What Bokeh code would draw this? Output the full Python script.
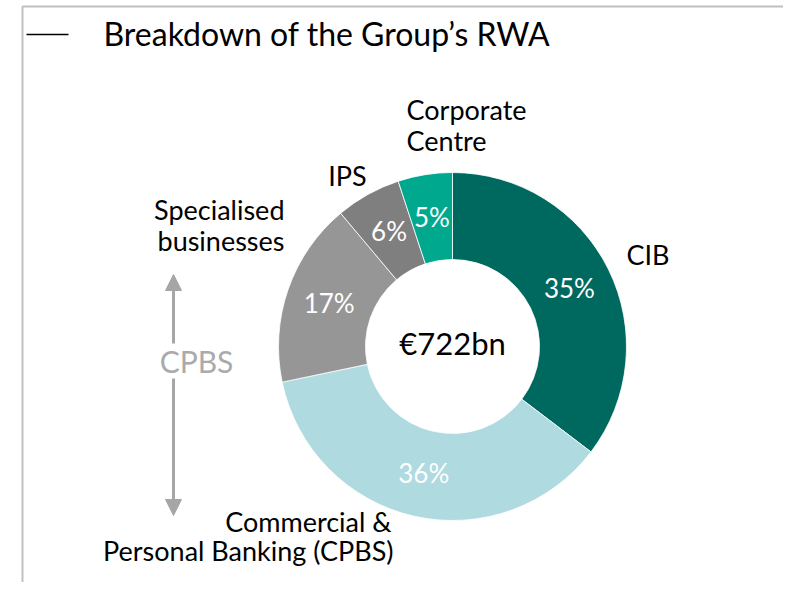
import numpy as np
from bokeh.plotting import figure
from bokeh.models import Range1d, Label, Arrow, NormalHead, ColumnDataSource
from bokeh.core.properties import value
from bokeh.embed import file_html
from bokeh.resources import INLINE

# ---- data ----
segments = ["CIB", "CPBS", "Specialised businesses", "IPS", "Corporate Centre"]
shares = [35, 36, 17, 6, 5]
pct_labels = ["35%", "36%", "17%", "6%", "5%"]
seg_colors = ["#00695F", "#AEDAE0", "#969696", "#7F7F7F", "#00A88E"]
total_label = "€722bn"
title_text = "Breakdown of the Group’s RWA"
group_label = "CPBS"

# outer label lines: text, page x, page y, align
outer_lines = [
    ("CIB", 626, 254, "left"),
    ("Commercial &", 391, 521, "right"),
    ("Personal Banking (CPBS)", 393, 550, "right"),
    ("Specialised", 284, 209, "right"),
    ("businesses", 284, 240, "right"),
    ("IPS", 347, 175, "center"),
    ("Corporate", 406, 109, "left"),
    ("Centre", 406, 140, "left"),
]

W, H = 783, 582
FONT = "Lato"


def px(x):
    return x


def py(y):
    return H - y


p = figure(width=W, height=H, output_backend="svg", toolbar_location=None,
           x_range=Range1d(0, W), y_range=Range1d(0, H), min_border=0)
p.axis.visible = False
p.grid.visible = False
p.outline_line_color = None
p.background_fill_color = "white"
p.border_fill_color = "white"

# frame
p.line([px(22), px(22), px(788), px(788)], [py(600), py(6), py(6), py(600)],
       line_color="#C0C0C0", line_width=2)
# title dash + title
p.line([px(26), px(68)], [py(34), py(34)], line_color="black", line_width=1.5)
p.add_layout(Label(x=px(103), y=py(33), text=title_text, text_font=FONT,
                   text_font_size="32px", text_baseline="middle", text_color="black"))

# donut
cx, cy = px(452), py(346)
r_out, r_in = 174, 87
vals = np.array(shares, dtype=float)
frac = vals / vals.sum()
cum = np.concatenate([[0], np.cumsum(frac)])
start = np.pi / 2 - 2 * np.pi * cum[:-1]
end = np.pi / 2 - 2 * np.pi * cum[1:]
mid = (start + end) / 2
src = ColumnDataSource(dict(start=start, end=end, color=seg_colors,
                            x=[cx] * len(vals), y=[cy] * len(vals)))
p.annular_wedge(x="x", y="y", inner_radius=r_in, outer_radius=r_out,
                start_angle="start", end_angle="end", direction="clock",
                fill_color="color", line_color="white", line_width=0.8, source=src)

r_mid = (r_in + r_out) / 2
lab_src = ColumnDataSource(dict(x=cx + r_mid * np.cos(mid), y=cy + r_mid * np.sin(mid) + 1,
                                t=pct_labels))
p.text(x="x", y="y", text="t", source=lab_src, text_color="white",
       text_font=value(FONT), text_font_size="26px", text_align="center",
       text_baseline="middle")

p.text(x=[cx], y=[cy + 4], text=[total_label], text_color="black",
       text_font=value(FONT), text_font_size="31px", text_align="center",
       text_baseline="middle")

# outer labels
for t, x, y, a in outer_lines:
    p.text(x=[px(x)], y=[py(y)], text=[t], text_color="black",
           text_font=value(FONT), text_font_size="27px", text_align=a,
           text_baseline="middle")

# CPBS bracket arrows
gray = "#A6A6A6"
p.add_layout(Arrow(end=NormalHead(size=16, fill_color=gray, line_color=gray),
                   x_start=px(173), y_start=py(343), x_end=px(173), y_end=py(274),
                   line_color=gray, line_width=3))
p.add_layout(Arrow(end=NormalHead(size=16, fill_color=gray, line_color=gray),
                   x_start=px(173), y_start=py(378), x_end=px(173), y_end=py(515),
                   line_color=gray, line_width=3))
p.text(x=[px(196)], y=[py(360)], text=[group_label], text_color="#AAAAAA",
       text_font=value(FONT), text_font_size="30px", text_align="center",
       text_baseline="middle")

open("out.html", "w").write(file_html(p, INLINE))
